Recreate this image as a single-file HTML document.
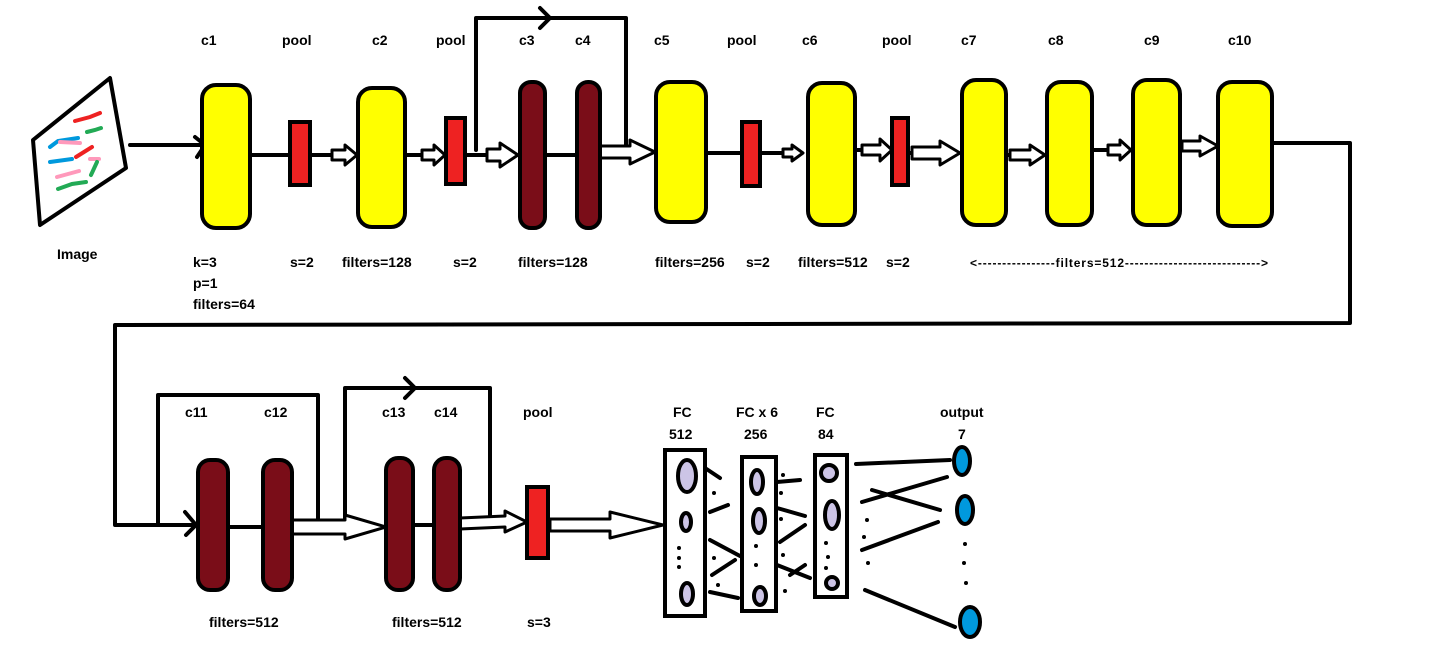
<!DOCTYPE html>
<html><head><meta charset="utf-8"><style>
html,body{margin:0;padding:0;background:#fff;}
svg{display:block;}
text{font-family:"Liberation Sans",sans-serif;font-size:14px;font-weight:bold;fill:#000;}
</style></head><body>
<svg id="d" width="1456" height="664" viewBox="0 0 1456 664">
<g stroke="#000" fill="none" stroke-width="4" stroke-linecap="round" stroke-linejoin="round">
 <polygon points="33,140 110,78 126,168 40,225" fill="#fff"/>
 <path d="M130,145 L205,145 M195,137 L205,145 L197,157"/>
 <path d="M250,155 L290,155 M310,155 L335,155 M405,155 L425,155 M465,155 L490,155 M545,155 L577,155 M600,152 L628,152 M706,153 L742,153 M760,153 L785,153 M855,150 L870,150 M908,153 L935,153 M1006,155 L1020,155 M1092,150 L1115,150 M1180,146 L1195,146"/>
 <path d="M476,150 L476,18 L626,18 L626,150 M540,8 L550,18 L540,28"/>
 <path d="M1272,143 L1350,143 L1350,323 L115,325 L115,525 L198,525 M185,512 L196,525 L186,535"/>
 <path d="M158,525 L158,395 L318,395 L318,525 M228,527 L263,527 M292,527 L360,527 M413,525 L434,525 M460,525 L505,522 M548,525 L600,525"/>
 <path d="M345,525 L345,388 L490,388 L490,520 M405,378 L415,388 L405,398"/>
 <path d="M705,468 L720,478 M710,512 L728,505 M710,540 L740,556 M712,575 L735,560 M710,592 L738,598 M777,482 L800,480 M777,508 L805,516 M780,542 L805,525 M777,565 L810,578 M790,575 L805,565"/>
 <path d="M856,464 L950,460 M872,490 L940,510 M862,502 L947,477 M862,550 L938,522 M865,590 L955,627"/>
</g>
<g fill="#fff" stroke="#000" stroke-width="3" stroke-linejoin="round">
 <polygon points="332,150 345,150 345,145 357,155 345,165 345,160 332,160"/>
 <polygon points="422,150 434,150 434,145 445,155 434,165 434,160 422,160"/>
 <polygon points="487,149 500,149 500,143 518,155 500,167 500,161 487,161"/>
 <polygon points="600,146 630,146 630,140 655,152 630,164 630,158 600,158"/>
 <polygon points="783,149 792,149 792,145 803,153 792,161 792,157 783,157"/>
 <polygon points="862,145 880,145 880,139 892,150 880,161 880,155 862,155"/>
 <polygon points="912,147 940,147 940,141 960,153 940,165 940,159 912,159"/>
 <polygon points="1010,150 1030,150 1030,145 1045,155 1030,165 1030,160 1010,160"/>
 <polygon points="1108,145 1120,145 1120,140 1131,150 1120,160 1120,155 1108,155"/>
 <polygon points="1182,141 1200,141 1200,136 1218,146 1200,156 1200,151 1182,151"/>
 <polygon points="292,520 345,520 345,515 386,527 345,539 345,534 292,534"/>
 <polygon points="460,518 505,516 505,511 527,522 505,532 505,527 460,529"/>
 <polygon points="550,519 610,519 610,512 663,525 610,538 610,531 550,531"/>
</g>
<g stroke-width="4" stroke-linecap="round" fill="none">
 <path d="M75,121 L90,117 L100,113" stroke="#e22"/><path d="M87,132 L95,130 L101,128" stroke="#2a5"/>
 <path d="M50,147 L58,141 L78,138" stroke="#09d"/><path d="M60,142 L80,143" stroke="#f9b"/>
 <path d="M76,157 L92,147" stroke="#e22"/><path d="M50,162 L72,159" stroke="#09d"/>
 <path d="M90,159 L99,159" stroke="#f9b"/><path d="M97,162 L91,175" stroke="#2a5"/>
 <path d="M57,177 L79,171" stroke="#f9b"/><path d="M58,189 L72,184 L86,182" stroke="#2a5"/>
</g>
<g stroke="#000" stroke-width="4">
 <rect x="202" y="85" width="48" height="143" rx="14" fill="#ff0"/>
 <rect x="290" y="122" width="20" height="63" fill="#e22"/>
 <rect x="358" y="88" width="47" height="139" rx="14" fill="#ff0"/>
 <rect x="446" y="118" width="19" height="66" fill="#e22"/>
 <rect x="520" y="82" width="25" height="146" rx="11" fill="#7a0d18"/>
 <rect x="577" y="82" width="23" height="146" rx="11" fill="#7a0d18"/>
 <rect x="656" y="82" width="50" height="140" rx="14" fill="#ff0"/>
 <rect x="742" y="122" width="18" height="64" fill="#e22"/>
 <rect x="808" y="83" width="47" height="142" rx="14" fill="#ff0"/>
 <rect x="892" y="118" width="16" height="67" fill="#e22"/>
 <rect x="962" y="80" width="44" height="145" rx="14" fill="#ff0"/>
 <rect x="1047" y="82" width="45" height="143" rx="14" fill="#ff0"/>
 <rect x="1133" y="80" width="47" height="145" rx="14" fill="#ff0"/>
 <rect x="1218" y="82" width="54" height="144" rx="14" fill="#ff0"/>
 <rect x="198" y="460" width="30" height="130" rx="12" fill="#7a0d18"/>
 <rect x="263" y="460" width="29" height="130" rx="12" fill="#7a0d18"/>
 <rect x="386" y="458" width="27" height="132" rx="12" fill="#7a0d18"/>
 <rect x="434" y="458" width="26" height="132" rx="12" fill="#7a0d18"/>
 <rect x="527" y="487" width="21" height="71" fill="#e22"/>
 <rect x="665" y="450" width="40" height="166" fill="#fff"/>
 <rect x="742" y="457" width="34" height="154" fill="#fff"/>
 <rect x="815" y="455" width="32" height="142" fill="#fff"/>
 <g fill="#ccc4e6">
  <ellipse cx="687" cy="476" rx="9" ry="16"/><ellipse cx="686" cy="522" rx="5" ry="9"/><ellipse cx="687" cy="594" rx="6" ry="11"/>
  <ellipse cx="757" cy="482" rx="6" ry="12"/><ellipse cx="759" cy="521" rx="6" ry="12"/><ellipse cx="760" cy="596" rx="6" ry="9"/>
  <ellipse cx="829" cy="473" rx="8" ry="8"/><ellipse cx="832" cy="515" rx="7" ry="14"/><ellipse cx="832" cy="583" rx="6" ry="6"/>
 </g>
 <g fill="#09d">
  <ellipse cx="962" cy="461" rx="8" ry="14"/><ellipse cx="965" cy="510" rx="8" ry="14"/><ellipse cx="970" cy="622" rx="10" ry="15"/>
 </g>
</g>
<g fill="#000">
 <circle cx="679" cy="548" r="2"/><circle cx="679" cy="558" r="2"/><circle cx="679" cy="567" r="2"/>
 <circle cx="756" cy="546" r="2"/><circle cx="756" cy="565" r="2"/><circle cx="826" cy="543" r="2"/><circle cx="828" cy="557" r="2"/><circle cx="826" cy="568" r="2"/>
 <circle cx="714" cy="493" r="2"/><circle cx="714" cy="558" r="2"/><circle cx="718" cy="585" r="2"/><circle cx="783" cy="475" r="2"/><circle cx="781" cy="493" r="2"/><circle cx="781" cy="519" r="2"/><circle cx="783" cy="555" r="2"/><circle cx="785" cy="591" r="2"/>
 <circle cx="867" cy="520" r="2"/><circle cx="864" cy="537" r="2"/><circle cx="868" cy="563" r="2"/>
 <circle cx="965" cy="544" r="2"/><circle cx="964" cy="563" r="2"/><circle cx="966" cy="583" r="2"/>
</g>
<g>
 <text x="57" y="259">Image</text>
 <text x="201" y="45">c1</text><text x="282" y="45">pool</text><text x="372" y="45">c2</text><text x="436" y="45">pool</text>
 <text x="519" y="45">c3</text><text x="575" y="45">c4</text><text x="654" y="45">c5</text><text x="727" y="45">pool</text>
 <text x="802" y="45">c6</text><text x="882" y="45">pool</text><text x="961" y="45">c7</text><text x="1048" y="45">c8</text>
 <text x="1144" y="45">c9</text><text x="1228" y="45">c10</text>
 <text x="193" y="267">k=3</text><text x="193" y="288">p=1</text><text x="193" y="309">filters=64</text>
 <text x="290" y="267">s=2</text><text x="342" y="267">filters=128</text><text x="453" y="267">s=2</text><text x="518" y="267">filters=128</text>
 <text x="655" y="267">filters=256</text><text x="746" y="267">s=2</text><text x="798" y="267">filters=512</text><text x="886" y="267">s=2</text>
 <text x="970" y="267" style="font-size:12px" textLength="298" lengthAdjust="spacing">&lt;----------------filters=512----------------------------&gt;</text>
 <text x="185" y="417">c11</text><text x="264" y="417">c12</text><text x="382" y="417">c13</text><text x="434" y="417">c14</text><text x="523" y="417">pool</text>
 <text x="673" y="417">FC</text><text x="669" y="439">512</text><text x="736" y="417">FC x 6</text><text x="744" y="439">256</text>
 <text x="816" y="417">FC</text><text x="818" y="439">84</text><text x="940" y="417">output</text><text x="958" y="439">7</text>
 <text x="209" y="627">filters=512</text><text x="392" y="627">filters=512</text><text x="527" y="627">s=3</text>
</g>
</svg>
</body></html>
